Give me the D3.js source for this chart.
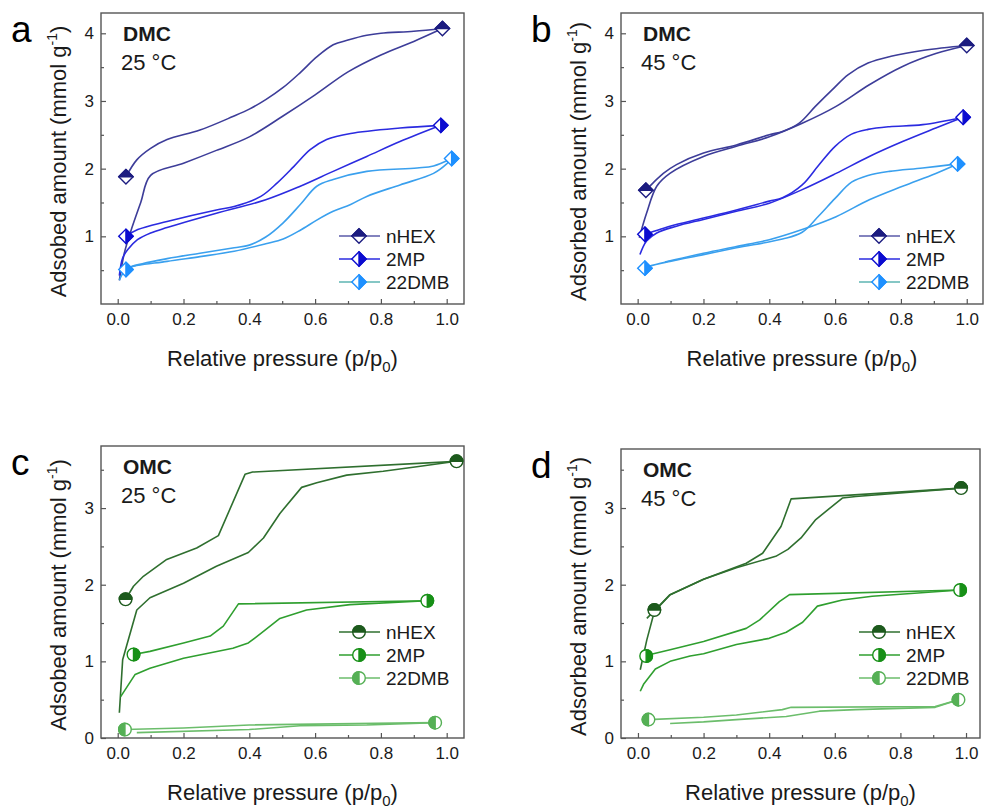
<!DOCTYPE html>
<html><head><meta charset="utf-8">
<script src="https://cdn.jsdelivr.net/npm/d3@7"></script>
<style>
html,body{margin:0;padding:0;background:#fff;}
svg{display:block;font-family:"Liberation Sans",Arial,sans-serif;}
</style></head>
<body><svg id="chart" width="984" height="809"></svg>
<script>
// ---------- data ----------
const seriesNames = ["nHEX", "2MP", "22DMB"];
const xTickValues = [0, 0.2, 0.4, 0.6, 0.8, 1.0];
const yTicksDMC = [1, 2, 3, 4];
const yTicksOMC = [0, 1, 2, 3];

// Panel a: DMC 25 °C
const a_nHEX_ads = [[0.005,0.35],[0.02,0.75],[0.04,1.08],[0.07,1.5],[0.1,1.9],[0.2,2.08],[0.3,2.27],[0.4,2.47],[0.5,2.77],[0.6,3.09],[0.7,3.43],[0.8,3.68],[0.9,3.88],[0.987,4.07]];
const a_nHEX_des = [[0.987,4.07],[0.9,4.03],[0.8,4.0],[0.757,3.97],[0.7,3.9],[0.655,3.83],[0.605,3.65],[0.555,3.42],[0.503,3.2],[0.45,3.02],[0.4,2.88],[0.35,2.77],[0.25,2.57],[0.15,2.43],[0.1,2.3],[0.058,2.13],[0.025,1.88]];
const a_2MP_ads = [[0.005,0.42],[0.015,0.68],[0.03,0.8],[0.06,0.95],[0.1,1.05],[0.15,1.13],[0.3,1.34],[0.45,1.54],[0.555,1.74],[0.655,1.96],[0.757,2.18],[0.858,2.4],[0.982,2.64]];
const a_2MP_des = [[0.982,2.64],[0.858,2.6],[0.708,2.52],[0.635,2.43],[0.585,2.28],[0.535,2.03],[0.485,1.79],[0.435,1.59],[0.354,1.44],[0.3,1.39],[0.15,1.22],[0.061,1.1],[0.025,1.0]];
const a_22DMB_ads = [[0.005,0.35],[0.015,0.45],[0.03,0.53],[0.15,0.63],[0.25,0.7],[0.354,0.78],[0.45,0.89],[0.503,0.96],[0.555,1.09],[0.605,1.24],[0.655,1.37],[0.708,1.47],[0.757,1.59],[0.858,1.76],[0.96,1.93],[1.0,2.07],[1.015,2.15]];
const a_22DMB_des = [[1.015,2.15],[0.96,2.04],[0.91,2.01],[0.757,1.96],[0.655,1.84],[0.605,1.74],[0.555,1.47],[0.503,1.2],[0.45,0.99],[0.4,0.87],[0.354,0.83],[0.25,0.75],[0.15,0.67],[0.04,0.55],[0.025,0.51]];
const a_markers = [[[0.025,1.88],[0.987,4.07]], [[0.025,1.0],[0.982,2.64]], [[0.025,0.51],[1.015,2.15]]];

// Panel b: DMC 45 °C
const b_nHEX_ads = [[0.005,0.98],[0.027,1.34],[0.058,1.74],[0.098,1.93],[0.2,2.18],[0.3,2.33],[0.4,2.47],[0.5,2.67],[0.603,2.92],[0.704,3.24],[0.805,3.51],[0.906,3.7],[1.0,3.82]];
const b_nHEX_des = [[1.0,3.82],[0.87,3.75],[0.77,3.66],[0.7,3.56],[0.64,3.39],[0.59,3.16],[0.54,2.92],[0.49,2.67],[0.44,2.55],[0.4,2.5],[0.3,2.35],[0.2,2.23],[0.118,2.06],[0.078,1.93],[0.047,1.79],[0.025,1.68]];
const b_2MP_ads = [[0.007,0.73],[0.027,0.93],[0.058,1.05],[0.118,1.15],[0.2,1.25],[0.3,1.37],[0.4,1.49],[0.5,1.69],[0.603,1.93],[0.704,2.18],[0.805,2.4],[0.906,2.6],[0.989,2.76]];
const b_2MP_des = [[0.989,2.76],[0.866,2.65],[0.765,2.62],[0.7,2.58],[0.65,2.51],[0.6,2.33],[0.55,2.05],[0.5,1.76],[0.44,1.57],[0.4,1.52],[0.3,1.39],[0.2,1.27],[0.098,1.15],[0.047,1.07],[0.022,1.03]];
const b_22DMB_ads = [[0.083,0.62],[0.2,0.75],[0.3,0.85],[0.4,0.95],[0.5,1.1],[0.603,1.29],[0.704,1.54],[0.805,1.74],[0.906,1.93],[0.972,2.07]];
const b_22DMB_des = [[0.972,2.07],[0.866,2.01],[0.765,1.96],[0.7,1.9],[0.65,1.8],[0.6,1.56],[0.55,1.3],[0.5,1.06],[0.44,0.96],[0.3,0.83],[0.2,0.73],[0.098,0.63],[0.037,0.56],[0.022,0.53]];
const b_markers = [[[0.025,1.68],[1.0,3.82]], [[0.022,1.03],[0.989,2.76]], [[0.022,0.53],[0.972,2.07]]];

// Panel c: OMC 25 °C
const c_nHEX_ads = [[0.005,0.33],[0.015,1.02],[0.058,1.67],[0.098,1.83],[0.2,2.02],[0.3,2.24],[0.397,2.42],[0.443,2.61],[0.493,2.93],[0.559,3.27],[0.605,3.33],[0.696,3.43],[0.807,3.48],[0.909,3.54],[1.03,3.61]];
const c_nHEX_des = [[1.03,3.61],[0.41,3.47],[0.387,3.44],[0.306,2.64],[0.24,2.48],[0.149,2.33],[0.078,2.11],[0.048,1.98],[0.024,1.81]];
const c_2MP_ads = [[0.009,0.54],[0.053,0.83],[0.098,0.91],[0.2,1.04],[0.35,1.17],[0.397,1.24],[0.443,1.39],[0.493,1.56],[0.574,1.67],[0.706,1.74],[0.941,1.79]];
const c_2MP_des = [[0.941,1.79],[0.367,1.75],[0.321,1.46],[0.281,1.33],[0.2,1.24],[0.098,1.13],[0.048,1.09]];
const c_22DMB_ads = [[0.058,0.07],[0.4,0.11],[0.554,0.16],[0.757,0.17],[0.965,0.2]];
const c_22DMB_des = [[0.965,0.2],[0.4,0.17],[0.2,0.13],[0.022,0.11]];
const c_markers = [[[0.024,1.81],[1.03,3.61]], [[0.048,1.09],[0.941,1.79]], [[0.022,0.11],[0.965,0.2]]];

// Panel d: OMC 45 °C
const d_nHEX_ads = [[0.007,0.89],[0.027,1.28],[0.05,1.65],[0.098,1.87],[0.2,2.07],[0.3,2.22],[0.42,2.37],[0.457,2.46],[0.497,2.61],[0.542,2.85],[0.623,3.13],[0.664,3.15],[0.985,3.26]];
const d_nHEX_des = [[0.985,3.26],[0.467,3.12],[0.436,2.76],[0.38,2.41],[0.33,2.28],[0.2,2.07],[0.098,1.87],[0.027,1.56]];
const d_2MP_ads = [[0.007,0.61],[0.017,0.7],[0.053,0.9],[0.098,1.0],[0.159,1.07],[0.2,1.1],[0.3,1.22],[0.4,1.3],[0.452,1.38],[0.502,1.51],[0.547,1.72],[0.623,1.8],[0.714,1.85],[0.982,1.93]];
const d_2MP_des = [[0.982,1.93],[0.462,1.87],[0.431,1.78],[0.371,1.54],[0.33,1.43],[0.2,1.26],[0.098,1.15],[0.047,1.1],[0.025,1.07]];
const d_22DMB_ads = [[0.098,0.19],[0.2,0.21],[0.3,0.24],[0.452,0.28],[0.553,0.35],[0.664,0.37],[0.906,0.4],[0.977,0.5]];
const d_22DMB_des = [[0.977,0.5],[0.906,0.41],[0.467,0.4],[0.44,0.37],[0.3,0.3],[0.2,0.27],[0.032,0.24]];
const d_markers = [[[0.05,1.67],[0.985,3.26]], [[0.025,1.07],[0.982,1.93]], [[0.032,0.24],[0.977,0.5]]];

// ---------- styles ----------
const DMC_COLORS = {line:["#3d3d99","#2b2be0","#3aa0ee"], mark:["#1c1c80","#0c0cd0","#1e90ff"], legend:["#5a5aa8","#2b2be0","#5cb5b2"]};
const OMC_COLORS = {line:["#2f6f2f","#2f9f2f","#6bbd6b"], mark:["#1d5a1d","#179017","#55b055"], legend:["#2f6f2f","#2f9f2f","#6bbd6b"]};

const panels = [
  {letter:"a", mat:"DMC", temp:"25 °C", ylab:"Adsobed amount (mmol g", L:101, R:464, T:13, B:304, xd:[-0.0508,1.0526], yd:[0,4.3], yt:yTicksDMC,
   series:[[a_nHEX_ads,a_nHEX_des],[a_2MP_ads,a_2MP_des],[a_22DMB_ads,a_22DMB_des]], markers:a_markers, colors:DMC_COLORS, shape:"diamond", curve:d3.curveCatmullRom, legX:339, legY:236, halves:["top","right","right"]},
  {letter:"b", mat:"DMC", temp:"45 °C", ylab:"Adsorbed amount (mmol g", L:621, R:983, T:13, B:304, xd:[-0.0506,1.0494], yd:[0,4.3], yt:yTicksDMC,
   series:[[b_nHEX_ads,b_nHEX_des],[b_2MP_ads,b_2MP_des],[b_22DMB_ads,b_22DMB_des]], markers:b_markers, colors:DMC_COLORS, shape:"diamond", curve:d3.curveCatmullRom, legX:859, legY:236, halves:["top","right","right"]},
  {letter:"c", mat:"OMC", temp:"25 °C", ylab:"Adsobed amount (mmol g", L:101, R:464, T:446, B:738, xd:[-0.0508,1.0526], yd:[0,3.81], yt:yTicksOMC,
   series:[[c_nHEX_ads,c_nHEX_des],[c_2MP_ads,c_2MP_des],[c_22DMB_ads,c_22DMB_des]], markers:c_markers, colors:OMC_COLORS, shape:"circle", curve:d3.curveLinear, legX:339, legY:632, halves:["top","right","left"]},
  {letter:"d", mat:"OMC", temp:"45 °C", ylab:"Adsorbed amount (mmol g", L:621, R:980, T:449, B:738, xd:[-0.0517,1.0426], yd:[0,3.77], yt:yTicksOMC,
   series:[[d_nHEX_ads,d_nHEX_des],[d_2MP_ads,d_2MP_des],[d_22DMB_ads,d_22DMB_des]], markers:d_markers, colors:OMC_COLORS, shape:"circle", curve:d3.curveLinear, legX:859, legY:632, halves:["top","right","left"]}
];

const svg = d3.select("#chart");
const AX = "#555";
const TXT = "#1a1a1a";

function halfPath(shape, half, r) {
  if (shape === "diamond") {
    if (half === "top") return `M${-r},0L0,${-r}L${r},0Z`;
    if (half === "right") return `M0,${-r}L${r},0L0,${r}Z`;
    return `M0,${-r}L${-r},0L0,${r}Z`;
  } else {
    if (half === "top") return `M${-r},0A${r},${r} 0 0 1 ${r},0Z`;
    if (half === "right") return `M0,${-r}A${r},${r} 0 0 1 0,${r}Z`;
    return `M0,${r}A${r},${r} 0 0 1 0,${-r}Z`;
  }
}
function fullPath(shape, r) {
  if (shape === "diamond") return `M0,${-r}L${r},0L0,${r}L${-r},0Z`;
  return `M${-r},0A${r},${r} 0 1 1 ${r},0A${r},${r} 0 1 1 ${-r},0Z`;
}
function drawMarker(g, x, y, shape, half, color) {
  const r = shape === "diamond" ? 7.2 : 6.3;
  const m = g.append("g").attr("transform", `translate(${x},${y})`);
  m.append("path").attr("d", fullPath(shape, r)).attr("fill", "#fff").attr("stroke", color).attr("stroke-width", 1.4);
  m.append("path").attr("d", halfPath(shape, half, r)).attr("fill", color).attr("stroke", color).attr("stroke-width", 1.4).attr("stroke-linejoin","round");
}

panels.forEach(p => {
  const x = d3.scaleLinear().domain(p.xd).range([p.L, p.R]);
  const y = d3.scaleLinear().domain(p.yd).range([p.B, p.T]);
  const g = svg.append("g");

  // clip
  const cid = "clip-" + p.letter;
  svg.append("clipPath").attr("id", cid).append("rect").attr("x", p.L).attr("y", p.T).attr("width", p.R - p.L).attr("height", p.B - p.T);

  // axes (ticks inward)
  const xAxis = d3.axisBottom(x).tickValues(xTickValues).tickSize(-5).tickPadding(9).tickFormat(d3.format(".1f"));
  const xMinor = d3.axisBottom(x).tickValues(d3.range(0.1, 1.0, 0.2)).tickSize(-3).tickFormat("");
  const yAxis = d3.axisLeft(y).tickValues(p.yt).tickSize(-5).tickPadding(7).tickFormat(d3.format("d"));
  const yMinorVals = d3.range(0.5, p.yd[1], 1);
  const yMinor = d3.axisLeft(y).tickValues(yMinorVals).tickSize(-3).tickFormat("");

  [[xAxis, "x"], [xMinor, "x"], [yAxis, "y"], [yMinor, "y"]].forEach(([ax, t]) => {
    const ag = g.append("g").attr("transform", t === "x" ? `translate(0,${p.B})` : `translate(${p.L},0)`).call(ax);
    ag.select(".domain").remove();
    ag.selectAll("line").attr("stroke", AX).attr("stroke-width", 1.2);
    ag.selectAll("text").attr("fill", TXT).attr("font-size", 17).attr("font-family", '"Liberation Sans",Arial,sans-serif');
  });

  // frame
  g.append("rect").attr("x", p.L).attr("y", p.T).attr("width", p.R - p.L).attr("height", p.B - p.T)
    .attr("fill", "none").attr("stroke", AX).attr("stroke-width", 1.4);

  // curves
  const line = d3.line().x(d => x(d[0])).y(d => y(d[1])).curve(p.curve);
  const cg = g.append("g").attr("clip-path", `url(#${cid})`);
  p.series.forEach((pair, i) => {
    pair.forEach(arr => {
      cg.append("path").attr("d", line(arr)).attr("fill", "none").attr("stroke", p.colors.line[i]).attr("stroke-width", 1.6).attr("stroke-linejoin", "round");
    });
  });
  // markers
  p.markers.forEach((pts, i) => {
    pts.forEach(pt => drawMarker(g, x(pt[0]), y(pt[1]), p.shape, p.halves[i], p.colors.mark[i]));
  });

  // legend
  seriesNames.forEach((nm, i) => {
    const ly = p.legY + i * 23;
    g.append("line").attr("x1", p.legX).attr("x2", p.legX + 41).attr("y1", ly).attr("y2", ly).attr("stroke", p.colors.legend[i]).attr("stroke-width", 1.6);
    drawMarker(g, p.legX + 20, ly, p.shape, p.halves[i], p.colors.mark[i]);
    g.append("text").attr("x", p.legX + 47).attr("y", ly + 7).attr("font-size", 19).attr("fill", TXT).text(nm);
  });

  // annotations
  g.append("text").attr("x", p.L + 22).attr("y", p.T + 28).attr("font-size", 21).attr("font-weight", "bold").attr("fill", TXT).text(p.mat);
  g.append("text").attr("x", p.L + 20).attr("y", p.T + 57).attr("font-size", 22).attr("fill", TXT).text(p.temp);
  g.append("text").attr("x", p.L - 90).attr("y", p.T + 29).attr("font-size", 37).attr("fill", "#000").text(p.letter);

  // axis titles
  const xt = g.append("text").attr("x", (p.L + p.R) / 2).attr("y", p.B + 62).attr("text-anchor", "middle").attr("font-size", 22).attr("fill", TXT);
  xt.append("tspan").text("Relative pressure (p/p");
  xt.append("tspan").attr("font-size", 15).attr("dy", 6).text("0");
  xt.append("tspan").attr("dy", -6).text(")");

  const cy = (p.T + p.B) / 2 + 3;
  const yt = g.append("text").attr("transform", `translate(${p.L - 35},${cy}) rotate(-90)`).attr("text-anchor", "middle").attr("font-size", 22).attr("fill", TXT);
  yt.append("tspan").text(p.ylab);
  yt.append("tspan").attr("font-size", 14).attr("dy", -9).text("-1");
  yt.append("tspan").attr("dy", 9).text(")");
});
</script>
</body></html>
